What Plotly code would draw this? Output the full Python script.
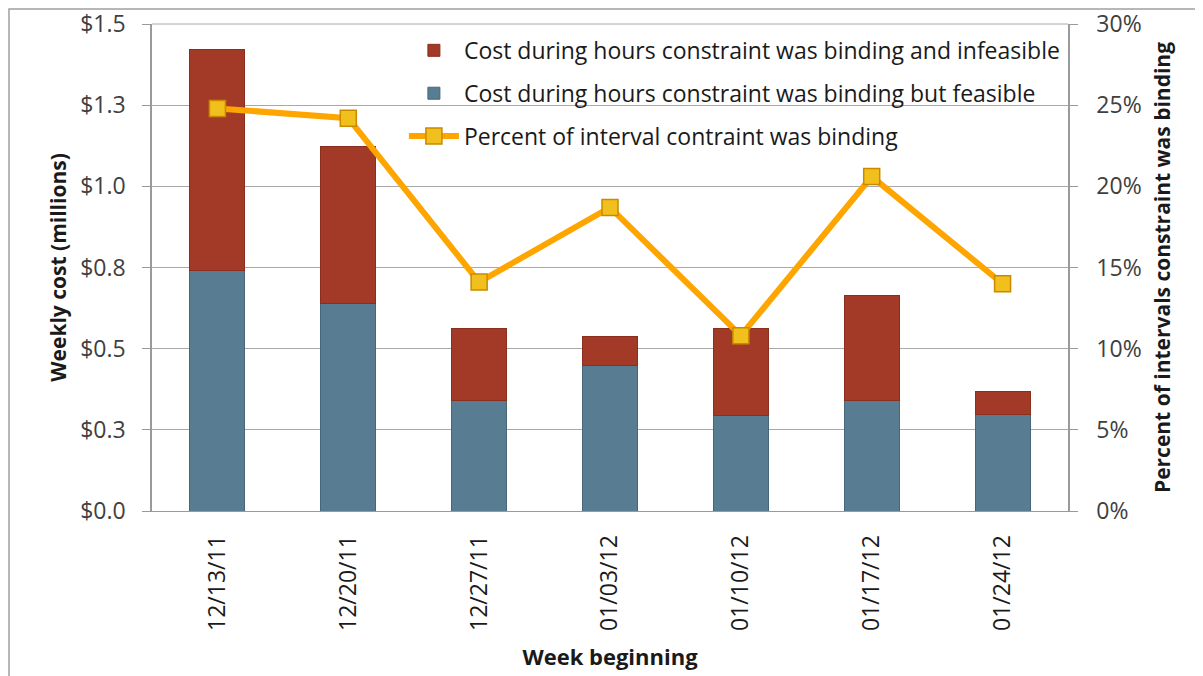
import plotly.graph_objects as go

weeks = ["12/13/11", "12/20/11", "12/27/11", "01/03/12", "01/10/12", "01/17/12", "01/24/12"]
feasible = [0.742, 0.638, 0.339, 0.447, 0.293, 0.339, 0.296]
infeasible_total = [1.423, 1.124, 0.561, 0.536, 0.561, 0.665, 0.367]
infeasible = [round(t - f, 3) for t, f in zip(infeasible_total, feasible)]
pct_binding = [24.8, 24.2, 14.1, 18.7, 10.8, 20.6, 14.0]

left_tickvals = [0, 0.25, 0.5, 0.75, 1.0, 1.25, 1.5]
left_ticktext = ["$0.0", "$0.3", "$0.5", "$0.8", "$1.0", "$1.3", "$1.5"]
right_tickvals = [0, 5, 10, 15, 20, 25, 30]
right_ticktext = ["0%", "5%", "10%", "15%", "20%", "25%", "30%"]

FONT = "Open Sans"

fig = go.Figure()
fig.add_trace(go.Bar(
    x=weeks, y=feasible, name="Cost during hours constraint was binding but feasible",
    marker=dict(color="#587D93", line=dict(color="#46677A", width=1)),
    width=0.42, legendrank=2, legendgroup="b",
))
fig.add_trace(go.Bar(
    x=weeks, y=infeasible, name="Cost during hours constraint was binding and infeasible",
    marker=dict(color="#A23A27", line=dict(color="#8A2E1E", width=1)),
    width=0.42, legendrank=1, legendgroup="a",
))
fig.add_trace(go.Scatter(
    x=weeks, y=pct_binding, name="Percent of interval contraint was binding",
    yaxis="y2", mode="lines+markers",
    line=dict(color="#FFA500", width=6),
    marker=dict(symbol="square", size=16, color="#F2C01C", line=dict(color="#C98A00", width=1.5)),
    legendrank=3, legendgroup="c",
))

fig.update_layout(
    width=1203, height=676,
    barmode="stack",
    paper_bgcolor="white", plot_bgcolor="white",
    margin=dict(l=144, r=143, t=16, b=173, autoexpand=False),
    font=dict(family=FONT, size=18, color="#404040"),
    showlegend=True,
    legend=dict(
        x=0.275, y=0.99, xanchor="left", yanchor="top",
        traceorder="grouped",
        bgcolor="rgba(255,255,255,0)",
        font=dict(family=FONT, size=23, color="#1a1a1a"),
        tracegroupgap=10, itemwidth=50,
    ),
    xaxis=dict(
        automargin=False,
        tickangle=-90, showgrid=False, showline=True, linecolor="#9a9a9a",
        ticks="", tickfont=dict(family=FONT, size=23, color="#1a1a1a"),
        ticklabelstandoff=14,
        title=dict(text="<b>Week beginning</b>", font=dict(family=FONT, size=22, color="#1a1a1a"), standoff=19),
    ),
    yaxis=dict(
        automargin=False, ticklabeloverflow="allow",
        range=[0, 1.5], tickvals=left_tickvals, ticktext=left_ticktext,
        showgrid=True, gridcolor="#a8a8a8", gridwidth=1,
        showline=True, linecolor="#9a9a9a", linewidth=1.5,
        ticks="outside", ticklen=8, tickcolor="#9a9a9a",
        tickfont=dict(family=FONT, size=23, color="#404040"),
        ticklabelstandoff=12,
        zeroline=False,
        title=dict(text="<b>Weekly cost (millions)</b>", font=dict(family=FONT, size=21, color="#1a1a1a"), standoff=8),
    ),
    yaxis2=dict(
        automargin=False, ticklabeloverflow="allow",
        range=[0, 30], tickvals=right_tickvals, ticktext=right_ticktext,
        overlaying="y", side="right", showgrid=False,
        showline=True, linecolor="#9a9a9a", linewidth=1.5,
        ticks="outside", ticklen=8, tickcolor="#9a9a9a",
        tickfont=dict(family=FONT, size=23, color="#404040"),
        ticklabelstandoff=14,
        zeroline=False,
        title=dict(text="<b>Percent of intervals constraint was binding</b>", font=dict(family=FONT, size=21, color="#1a1a1a"), standoff=15),
    ),
    shapes=[
        dict(
            type="rect", xref="paper", yref="paper",
            x0=(1 - 144) / 916, x1=(1200 - 144) / 916,
            y0=(503 - 674) / 487, y1=(503 - 1) / 487,
            line=dict(color="#a0a0a0", width=1.5), fillcolor="rgba(0,0,0,0)", layer="below",
        ),
        dict(
            type="line", xref="paper", yref="paper",
            x0=0, x1=1, y0=1, y1=1,
            line=dict(color="#a8a8a8", width=1), layer="below",
        ),
    ],
)

fig.write_html("out.html")
